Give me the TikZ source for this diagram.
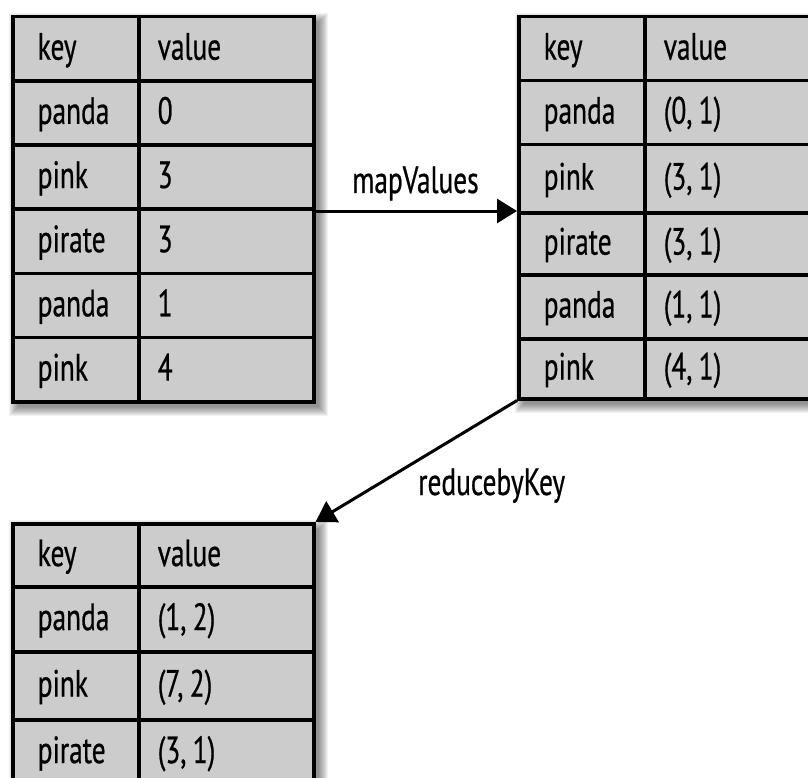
\documentclass[tikz,border=0pt]{standalone}
\usepackage{fontspec}
\setmainfont{PT Sans}[FakeStretch=0.72,FakeBold=0.6]
\usetikzlibrary{arrows.meta}
\definecolor{cellgray}{RGB}{204,204,204}
\tikzset{
  cell/.style={draw=black, line width=3.5pt, fill=cellgray, rectangle, anchor=north west,
    inner ysep=0pt, text height=24pt, text depth=2.3pt, align=left,
    font=\fontsize{38}{44}\selectfont},
  keycell/.style={cell, inner xsep=25pt, text width=76pt, minimum width=126pt},
  valcell/.style={cell, inner xsep=19pt, text width=#1, minimum width={#1+38pt}},
  lbl/.style={anchor=base west, inner sep=0pt, font=\fontsize{38}{44}\selectfont},
  flow/.style={line width=3pt, -{Triangle[length=20pt,width=24pt]}},
}
\newcommand{\tblshadow}[4]{%
  \foreach \s in {0,...,9}{
    \fill[black, fill opacity=0.05] (#1+7-\s,#2+7-\s) rectangle (#3+7+\s,#4+7+\s);
  }}
\begin{document}
\begin{tikzpicture}[x=1pt,y=-1pt]
\useasboundingbox (0,0) rectangle (808,778);
\clip (0,0) rectangle (808,778);
\fill[white] (0,0) rectangle (808,778);
% shadows
\tblshadow{11}{15}{312}{400}
\tblshadow{517}{15}{860}{397}
\tblshadow{11}{522}{312}{800}
% table 1
\foreach \r/\y/\h/\k/\v in {1/15/64.17/key/value, 2/79.17/64.17/panda/0, 3/143.33/64.17/pink/3,
  4/207.5/64.17/pirate/3, 5/271.67/64.17/panda/1, 6/335.83/64.17/pink/4}{
  \node[keycell, minimum height=\h pt] (t1-\r-1) at (11,\y) {\k};
  \node[valcell=137pt, minimum height=\h pt] (t1-\r-2) at (137,\y) {\v};
}
% table 2
\foreach \r/\y/\h/\k/\v in {1/15/64/key/value, 2/79/64/panda/{(0,\,1)}, 3/143/68/pink/{(3,\,1)},
  4/211/62/pirate/{(3,\,1)}, 5/273/64/panda/{(1,\,1)}, 6/337/60/pink/{(4,\,1)}}{
  \node[keycell, minimum height=\h pt] (t2-\r-1) at (517,\y) {\k};
  \node[valcell=180pt, minimum height=\h pt] (t2-\r-2) at (643,\y) {\v};
}
% table 3
\foreach \r/\y/\h/\k/\v in {1/522/63/key/value, 2/585/65/panda/{(1,\,2)}, 3/650/68/pink/{(7,\,2)},
  4/718/65/pirate/{(3,\,1)}}{
  \node[keycell, minimum height=\h pt] (t3-\r-1) at (11,\y) {\k};
  \node[valcell=137pt, minimum height=\h pt] (t3-\r-2) at (137,\y) {\v};
}
% connectors
\coordinate (a1s) at (t1-4-2.east |- t2-4-1.north west);
\draw[flow] (a1s) -- (t2-4-1.north west);
\draw[flow] (t2-6-1.south west) -- (t3-1-2.north east);
\node[lbl] (mapv) at (352,193) {mapValues};
\node[lbl] (redk) at (418,495) {reducebyKey};
\end{tikzpicture}
\end{document}
